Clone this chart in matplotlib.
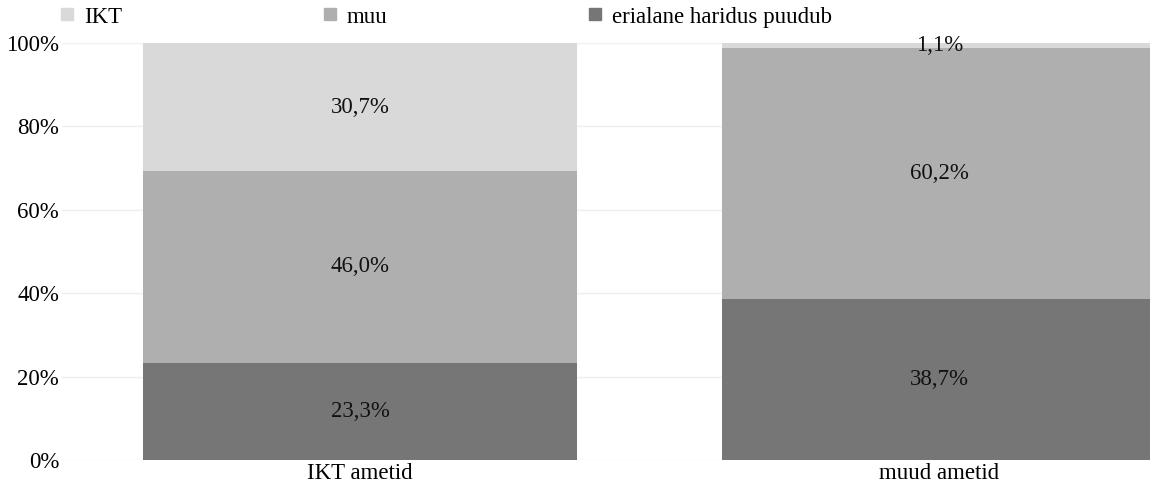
import matplotlib.pyplot as plt
from matplotlib.lines import Line2D

categories = ["IKT ametid", "muud ametid"]
series_names = ["IKT", "muu", "erialane haridus puudub"]
erialane = [23.3, 38.7]
muu = [46.0, 60.2]
ikt = [30.7, 1.1]

colors = {"IKT": "#d9d9d9", "muu": "#afafaf", "erialane haridus puudub": "#767676"}

plt.rcParams['font.family'] = ['Liberation Serif', 'DejaVu Serif']
fs = 16.5

fig = plt.figure(figsize=(11.5, 4.88), dpi=100)
ax = fig.add_axes([62 / 1150, 28 / 488, 1 - 62 / 1150, (460 - 43) / 488])

x = [0, 1]
w = 0.75
bottoms = [0, 0]
for name, vals in [("erialane haridus puudub", erialane), ("muu", muu), ("IKT", ikt)]:
    ax.bar(x, vals, w, bottom=bottoms, color=colors[name], zorder=2)
    for i, v in enumerate(vals):
        ax.text(x[i], bottoms[i] + v / 2, f"{v:.1f}%".replace(".", ","),
                ha="center", va="center", color="#111111", fontsize=fs, zorder=3)
    bottoms = [b + v for b, v in zip(bottoms, vals)]

ax.set_xlim(-0.515, 1.364)
ax.set_ylim(0, 100)
ax.set_yticks(range(0, 101, 20))
ax.set_yticklabels([f"{t}%" for t in range(0, 101, 20)], fontsize=fs)
ax.set_xticks(x)
ax.set_xticklabels(categories, fontsize=fs)
ax.tick_params(length=0, pad=2)
ax.grid(axis="y", color="#efefef", lw=1, zorder=0)
for s in ax.spines.values():
    s.set_visible(False)

handles = [Line2D([], [], marker="s", ls="", color=colors[n], markersize=9) for n in series_names]
fig.legend(handles, series_names, ncol=3, loc="center left", bbox_to_anchor=(59 / 1150, 1 - 17 / 488),
           frameon=False, columnspacing=8.7, handlelength=0.7, handletextpad=0.4, fontsize=fs,
           borderaxespad=0, borderpad=0)

fig.savefig("out.png", dpi=100)
